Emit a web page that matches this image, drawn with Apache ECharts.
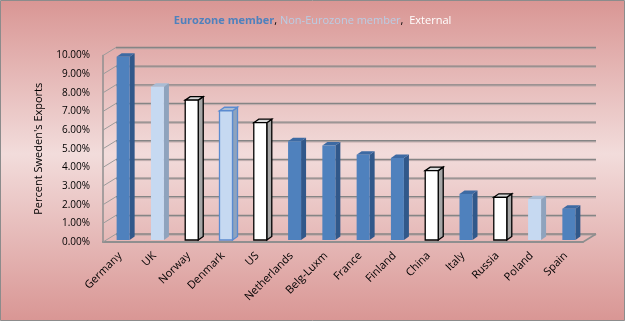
<!DOCTYPE html>
<html>
<head>
<meta charset="utf-8">
<script src="https://cdn.jsdelivr.net/npm/echarts@6/dist/echarts.min.js"></script>
<style>
html,body{margin:0;padding:0;background:#fff;}
#chart{width:625px;height:321px;}
</style>
</head>
<body>
<div id="chart"></div>
<script>
// ---- data ----
const categories = ['Germany','UK','Norway','Denmark','US','Netherlands','Belg-Luxm','France','Finland','China','Italy','Russia','Poland','Spain'];
const values = [9.82, 8.22, 7.50, 6.93, 6.29, 5.29, 5.07, 4.57, 4.40, 3.72, 2.47, 2.29, 2.19, 1.68];
const membership = ['Eurozone','Non-Eurozone','External','Non-Eurozone','External','Eurozone','Eurozone','Eurozone','Eurozone','External','Eurozone','External','Non-Eurozone','Eurozone'];
const yTicks = [0,1,2,3,4,5,6,7,8,9,10];

// ---- styles ----
const FONT = '"Open Sans", sans-serif';
const WALL = {dx: 13, dy: -8};
const BAR = {dx: 3, dy: -2, w: 13, ddx: 5, ddy: -3.5};
const barStyles = {
  'Eurozone':     {front: '#4f81bd', side: '#31588a', top: '#3d6aa3', stroke: null},
  'Non-Eurozone': {front: '#c6d9f1', side: '#8fa3bd', top: '#a9bcd4', stroke: null},
  'External':     {front: '#ffffff', side: '#a6a6a6', top: '#d9d9d9', stroke: '#000000'}
};
const outlineOverride = {'Denmark': '#5b8bd0'};

const chart = echarts.init(document.getElementById('chart'), null, {renderer: 'canvas'});

function renderWall(params, api) {
  const v = api.value(1);
  const n = categories.length;
  const p = api.coord([0, v]);
  const cw = api.size([1, 0])[0];
  const xl = p[0] - cw / 2;
  const xr = api.coord([n - 1, v])[0] + cw / 2;
  const y = p[1];
  const children = [
    {type: 'line', shape: {x1: xl, y1: y, x2: xl + WALL.dx, y2: y + WALL.dy}, style: {stroke: '#9b9b9b', lineWidth: 1}},
    {type: 'line', shape: {x1: xl + WALL.dx, y1: y + WALL.dy + 1.2, x2: xr + WALL.dx, y2: y + WALL.dy + 1.2}, style: {stroke: '#bba9a9', lineWidth: 1}},
    {type: 'line', shape: {x1: xl + WALL.dx, y1: y + WALL.dy, x2: xr + WALL.dx, y2: y + WALL.dy}, style: {stroke: '#858585', lineWidth: 1.3}}
  ];
  if (v === 0) {
    children.push({type: 'line', shape: {x1: xr, y1: y, x2: xr + WALL.dx, y2: y + WALL.dy}, style: {stroke: '#8f8f8f', lineWidth: 1.5}});
  }
  return {type: 'group', children: children};
}

function renderBar(params, api) {
  const i = api.value(0);
  const v = api.value(1);
  const st = barStyles[membership[i]];
  const stroke = outlineOverride[categories[i]] || st.stroke;
  const base = api.coord([i, 0]);
  const top = api.coord([i, v]);
  const cx = base[0] + BAR.dx;
  const yb = base[1] + BAR.dy;
  const yt = top[1] + BAR.dy;
  const x0 = cx - BAR.w / 2, x1 = cx + BAR.w / 2;
  const lw = stroke ? 1.3 : 0;
  const s = (fill) => ({fill: fill, stroke: stroke || null, lineWidth: lw});
  return {
    type: 'group',
    children: [
      {type: 'polygon', shape: {points: [[x1, yt], [x1 + BAR.ddx, yt + BAR.ddy], [x1 + BAR.ddx, yb + BAR.ddy], [x1, yb]]}, style: s(st.side)},
      {type: 'polygon', shape: {points: [[x0, yt], [x0 + BAR.ddx, yt + BAR.ddy], [x1 + BAR.ddx, yt + BAR.ddy], [x1, yt]]}, style: s(st.top)},
      {type: 'rect', shape: {x: x0, y: yt, width: BAR.w, height: yb - yt}, style: s(st.front)}
    ]
  };
}

const option = {
  animation: false,
  graphic: [{
    type: 'rect', z: -10, silent: true,
    shape: {x: 0.5, y: 0.5, width: 624, height: 320},
    style: {
      fill: {type: 'linear', x: 0, y: 0, x2: 0, y2: 1, colorStops: [
        {offset: 0, color: '#d99694'}, {offset: 0.48, color: '#f2dcdb'}, {offset: 1, color: '#d99694'}
      ]},
      stroke: '#8c8c8c', lineWidth: 1
    }
  }],
  title: {
    text: '{a|Eurozone member}{b|, }{c|Non-Eurozone member}{b|,  }{d|External}',
    left: 'center', top: 10,
    textStyle: {
      fontFamily: FONT, fontSize: 11, fontWeight: 'normal',
      rich: {
        a: {color: '#4f81bd', fontWeight: 'bold', fontSize: 11, fontFamily: FONT},
        b: {color: '#000000', fontWeight: 'normal', fontSize: 11, fontFamily: FONT},
        c: {color: '#b9cde5', fontWeight: 'normal', fontSize: 11, fontFamily: FONT},
        d: {color: '#ffffff', fontWeight: 'normal', fontSize: 11, fontFamily: FONT}
      }
    }
  },
  grid: {left: 103, right: 42, top: 55.5, bottom: 79},
  xAxis: {
    type: 'category', data: categories,
    axisLine: {show: true, lineStyle: {color: '#8f8f8f', width: 2}},
    axisTick: {show: false},
    axisLabel: {rotate: 45, margin: 12, fontSize: 11, fontFamily: FONT, color: '#000', interval: 0}
  },
  yAxis: {
    type: 'value', min: 0, max: 10, interval: 1,
    name: "Percent Sweden's Exports", nameLocation: 'middle', nameGap: 59,
    nameTextStyle: {fontSize: 11, fontFamily: FONT, color: '#000'},
    axisLine: {show: true, lineStyle: {color: '#8f8f8f', width: 1.5}},
    axisTick: {show: false},
    splitLine: {show: false},
    axisLabel: {formatter: (v) => v.toFixed(2) + '%', margin: 13, fontSize: 10, fontFamily: FONT, color: '#000'}
  },
  series: [
    {type: 'custom', z: 1, clip: false, silent: true, renderItem: renderWall,
     encode: {x: 0, y: 1}, data: yTicks.map(t => [0, t])},
    {type: 'custom', z: 2, clip: false, silent: true, renderItem: renderBar,
     encode: {x: 0, y: 1}, data: values.map((v, i) => [i, v])}
  ]
};
chart.setOption(option);
</script>
</body>
</html>
